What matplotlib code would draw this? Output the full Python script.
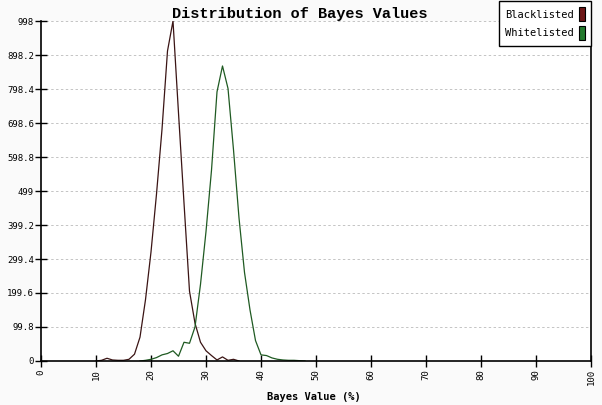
import matplotlib
matplotlib.use("Agg")
from matplotlib import pyplot as plt
from matplotlib.patches import Patch
import numpy as np

# Bayes value bins (%)
black_x = np.arange(10, 37)
black_y = [0, 2, 8, 3, 2, 2, 5, 20, 70, 180, 320, 490, 680, 910, 998,
           728, 464, 205, 111, 55, 30, 16, 3, 12, 2, 5, 0]

white_x = np.arange(18, 49)
white_y = [0, 2, 5, 10, 18, 22, 30, 14, 55, 52, 100, 225, 380, 560, 790, 866,
           800, 620, 420, 260, 150, 60, 18, 16, 9, 5, 3, 2, 2, 1, 0]

y_ticks = [0, 99.8, 199.6, 299.4, 399.2, 499, 598.8, 698.6, 798.4, 898.2, 998]
y_labels = ["0", "99.8", "199.6", "299.4", "399.2", "499", "598.8", "698.6",
            "798.4", "898.2", "998"]
x_ticks = list(range(0, 101, 10))

mono = "DejaVu Sans Mono"

fig = plt.figure(figsize=(6.02, 4.05), dpi=100, facecolor="#fafafa")
ax = fig.add_axes([41/602, 44/405, 550/602, 340/405])
ax.set_facecolor("white")

ax.plot(black_x, black_y, color="#3a1414", lw=0.9)
ax.plot(white_x, white_y, color="#1f5a22", lw=0.9)

ax.set_xlim(0, 100)
ax.set_ylim(0, 998)
ax.set_yticks(y_ticks)
ax.set_yticklabels(y_labels, fontfamily=mono, fontsize=6.5)
ax.set_xticks(x_ticks)
ax.set_xticklabels([str(t) for t in x_ticks], fontfamily=mono, fontsize=6.5,
                   rotation=90)
ax.tick_params(axis="both", direction="inout", length=8, width=1, color="black")
ax.tick_params(axis="x", pad=2)
ax.tick_params(axis="y", pad=1)

ax.grid(axis="y", color="#c4c4c4", linestyle=(0, (2.5, 2.5)), lw=0.7)
ax.set_axisbelow(True)
for side in ["left", "bottom", "right"]:
    ax.spines[side].set_color("black")
    ax.spines[side].set_linewidth(1.2)
ax.spines["top"].set_visible(False)

fig.text(300/602, 1 - 14/405, "Distribution of Bayes Values", ha="center",
         va="center", fontfamily="Liberation Mono", fontweight="bold",
         fontsize=11)
fig.text(314/602, 1 - 397/405, "Bayes Value (%)", ha="center", va="center",
         fontfamily="DejaVu Sans Mono", fontweight="bold", fontsize=7.5)

handles = [Patch(facecolor="#6e1717", edgecolor="black", lw=0.8),
           Patch(facecolor="#237a2d", edgecolor="black", lw=0.8)]
leg = fig.legend(handles, ["Blacklisted", "Whitelisted"], loc="upper right",
                 bbox_to_anchor=(591/602, 1 - 1/405),
                 bbox_transform=fig.transFigure, markerfirst=False,
                 handlelength=0.55, handleheight=1.7, handletextpad=0.5,
                 labelspacing=0.45, borderpad=0.6, borderaxespad=0,
                 fancybox=False, framealpha=1, edgecolor="black",
                 prop={"family": mono, "size": 7.5})
leg.get_frame().set_linewidth(1.0)

fig.savefig("out.png", dpi=100, facecolor=fig.get_facecolor())
